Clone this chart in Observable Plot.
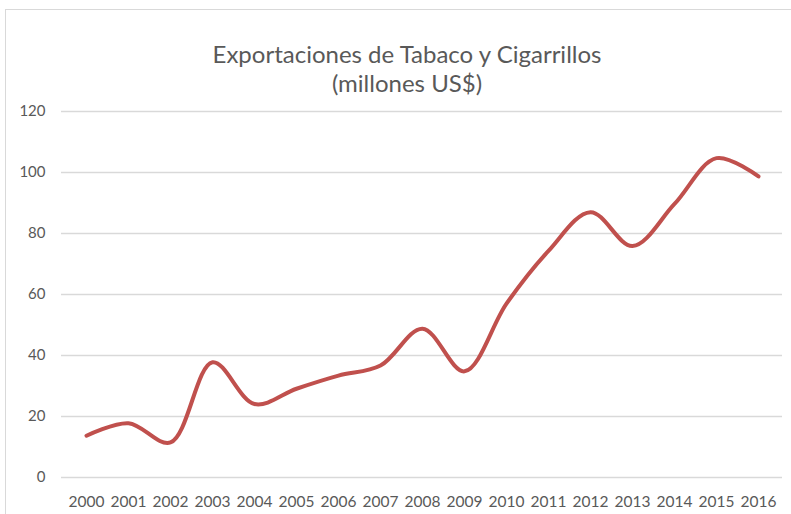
<!DOCTYPE html>
<html>
<head>
<meta charset="utf-8">
<script src="https://cdn.jsdelivr.net/npm/d3@7"></script>
<script src="https://cdn.jsdelivr.net/npm/@observablehq/plot@0.6"></script>
<style>
  html, body { margin: 0; padding: 0; background: #fff; }
  #wrap { position: relative; width: 791px; height: 514px; overflow: hidden; }
  #frame { position: absolute; left: 5px; top: 9px; width: 800px; height: 520px; border: 1px solid #d9d9d9; box-sizing: border-box; pointer-events: none; }
  #chart { position: absolute; left: 0; top: 0; }
</style>
</head>
<body>
<div id="wrap"><div id="chart"></div><div id="frame"></div></div>
<script>
const years = ["2000","2001","2002","2003","2004","2005","2006","2007","2008","2009","2010","2011","2012","2013","2014","2015","2016"];
const values = [13.7, 17.8, 11.5, 37.8, 24.1, 29.1, 33.4, 36.7, 48.8, 34.8, 57.0, 74.3, 87.0, 75.9, 89.7, 104.7, 98.7];
const yTicks = [0, 20, 40, 60, 80, 100, 120];
const titleLines = ["Exportaciones de Tabaco y Cigarrillos", "(millones US$)"];

const data = years.map((y, i) => ({year: y, value: values[i]}));
const font = "Lato, 'Open Sans', sans-serif";

const chart = Plot.plot({
  width: 791,
  height: 514,
  marginLeft: 61,
  marginRight: 9,
  marginTop: 111,
  marginBottom: 37,
  style: {fontFamily: font, fontSize: "15px", color: "#595959", background: "transparent"},
  x: {type: "point", domain: years, padding: 0.5, label: null},
  y: {domain: [0, 120], label: null},
  marks: [
    Plot.gridY(yTicks, {stroke: "#d9d9d9", strokeOpacity: 1, strokeWidth: 1.3}),
    Plot.axisY(yTicks, {tickSize: 0, tickPadding: 16, fontSize: 15, fill: "#595959", label: null}),
    Plot.axisX(years, {tickSize: 0, tickPadding: 18, fontSize: 15.5, fill: "#595959", label: null}),
    Plot.line(data, {x: "year", y: "value", curve: "catmull-rom", stroke: "#C0504D", strokeWidth: 4, strokeLinecap: "round", strokeLinejoin: "round"}),
    Plot.text([titleLines[0]], {text: d => d, frameAnchor: "top", dx: -15, dy: -66, fontSize: 24, fill: "#595959", fontFamily: font}),
    Plot.text([titleLines[1]], {text: d => d, frameAnchor: "top", dx: -15, dy: -37, fontSize: 24, fill: "#595959", fontFamily: font})
  ]
});
document.getElementById("chart").appendChild(chart);
</script>
</body>
</html>
